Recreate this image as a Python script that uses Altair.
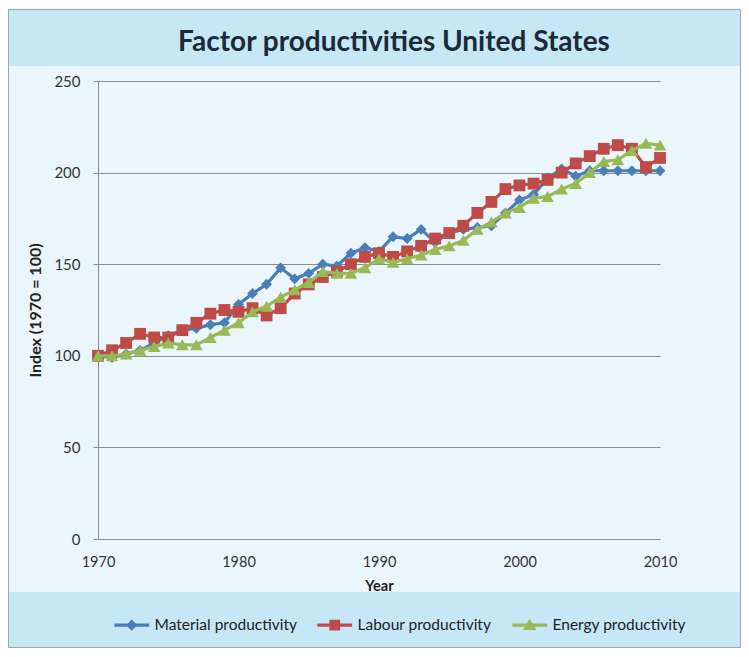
import altair as alt
import pandas as pd

years = list(range(1970, 2011))
material = [100, 99, 101, 103, 107, 111, 114, 115, 117, 118,
            128, 134, 139, 148, 142, 145, 150, 149, 156, 159,
            157, 165, 164, 169, 162, 167, 169, 170, 171, 178,
            185, 188, 197, 202, 198, 201, 201, 201, 201, 201, 201]
labour = [100, 103, 107, 112, 110, 110, 114, 118, 123, 125,
          124, 126, 122, 126, 134, 139, 143, 146, 150, 154,
          156, 154, 157, 160, 164, 167, 171, 178, 184, 191,
          193, 194, 196, 200, 205, 209, 213, 215, 213, 203, 208]
energy = [100, 100, 101, 103, 105, 107, 106, 106, 110, 114,
          118, 124, 127, 132, 136, 140, 146, 145, 145, 148,
          153, 151, 153, 155, 158, 160, 163, 169, 173, 178,
          181, 186, 187, 191, 194, 200, 206, 207, 212, 216, 215]

series_names = ["Material productivity", "Labour productivity", "Energy productivity"]
series_colors = ["#4A7EBB", "#BE4B48", "#98B954"]
marker_shapes = ["diamond", "square", "triangle-up"]
marker_sizes = [120, 140, 160]
x_ticks = [1970, 1980, 1990, 2000, 2010]
y_ticks = [0, 50, 100, 150, 200, 250]
title_text = "Factor productivities United States"

# legend symbols: a short line with the series marker on it
line_part = "M-2.9,-0.26H2.9V0.26H-2.9Z"
legend_paths = [
    line_part + "M-0.95,0L0,-0.95L0.95,0L0,0.95Z",
    line_part + "M-0.9,-0.9H0.9V0.9H-0.9Z",
    line_part + "M0,-1.05L1.1,0.8L-1.1,0.8Z",
]

rows = []
for name, vals in zip(series_names, [material, labour, energy]):
    for yr, v in zip(years, vals):
        rows.append({"Year": yr, "Index": v, "Series": name})
df = pd.DataFrame(rows)
one = pd.DataFrame({"k": [0]})

FONT = "Lato"
W, H = 562, 458

x_enc = alt.X("Year:Q",
              scale=alt.Scale(domain=[1970, 2010], nice=False, zero=False),
              axis=alt.Axis(values=x_ticks, format="d", title="Year", grid=False,
                            ticks=False, labelPadding=16, titlePadding=11,
                            labelFont=FONT, labelFontSize=14.5, labelColor="#333333",
                            titleFont=FONT, titleFontSize=14.5, titleFontWeight="bold",
                            titleColor="#222222", domainColor="#8C8C8C", labelFlush=False))
y_enc = alt.Y("Index:Q",
              scale=alt.Scale(domain=[0, 250], nice=False),
              axis=alt.Axis(values=y_ticks, title="Index (1970 = 100)", grid=True,
                            gridColor="#8C8C8C", gridWidth=1, tickSize=5, tickColor="#8C8C8C",
                            labelPadding=13, titlePadding=10,
                            labelFont=FONT, labelFontSize=15, labelColor="#333333",
                            titleFont=FONT, titleFontSize=16, titleFontWeight="bold",
                            titleColor="#222222", domainColor="#8C8C8C"))

title_band = alt.Chart(one).mark_rect(color="#C5E7F6").encode(
    x=alt.value(-90), x2=alt.value(643), y=alt.value(-71), y2=alt.value(-15))
legend_band = alt.Chart(one).mark_rect(color="#C5E7F6").encode(
    x=alt.value(-90), x2=alt.value(643), y=alt.value(511), y2=alt.value(567))
border = alt.Chart(one).mark_rect(fill=None, stroke="#A6A6A6", strokeWidth=1).encode(
    x=alt.value(-89.5), x2=alt.value(642.5), y=alt.value(-71.5), y2=alt.value(566.5))
title = alt.Chart(one).mark_text(
    text=title_text, font=FONT, fontSize=28, fontWeight="bold", color="#1B2A38",
    align="center", baseline="middle").encode(x=alt.value(296), y=alt.value(-38))

layers = [title_band, legend_band, border, title]
for name, col, shp, sz in zip(series_names, series_colors, marker_shapes, marker_sizes):
    sub = alt.Chart(df).transform_filter(alt.datum.Series == name)
    layers.append(sub.mark_line(color=col, strokeWidth=3.2).encode(x=x_enc, y=y_enc))
    layers.append(sub.mark_point(shape=shp, filled=True, size=sz, color=col, opacity=1)
                  .encode(x=x_enc, y=y_enc))

leg = alt.Legend(orient="none", legendX=26, legendY=536, direction="horizontal",
                 title=None, symbolSize=144, symbolStrokeWidth=0, symbolOpacity=1,
                 labelFont=FONT, labelFontSize=15.5, labelColor="#222222",
                 labelOffset=15, columnPadding=20, zindex=1)
legend_layer = alt.Chart(df).transform_filter("false").mark_point(
    filled=True, opacity=1).encode(
    x=x_enc, y=y_enc,
    color=alt.Color("Series:N", scale=alt.Scale(domain=series_names, range=series_colors), legend=leg),
    shape=alt.Shape("Series:N", scale=alt.Scale(domain=series_names, range=legend_paths), legend=leg))
layers.append(legend_layer)

chart = alt.layer(*layers).properties(
    width=W, height=H,
    autosize=alt.AutoSizeParams(type="none"),
    padding={"left": 90, "top": 73, "right": 81, "bottom": 109},
    background="#EBF6FC",
).configure_view(stroke=None)

chart.save("out.html", embed_options={"renderer": "svg", "actions": False})
